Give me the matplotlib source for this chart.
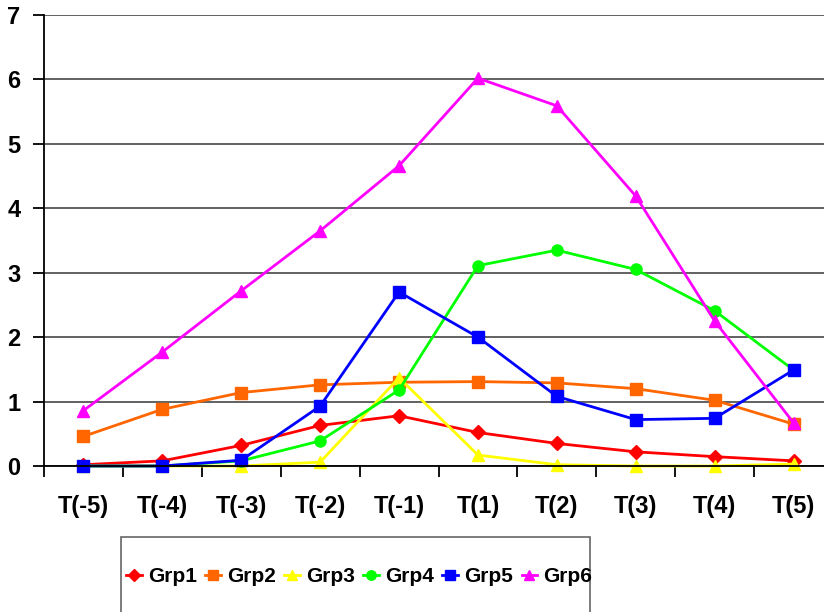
import matplotlib
matplotlib.use("Agg")
import matplotlib.pyplot as plt
from matplotlib.patches import Rectangle

categories = ["T(-5)", "T(-4)", "T(-3)", "T(-2)", "T(-1)", "T(1)", "T(2)", "T(3)", "T(4)", "T(5)"]
grp1 = [0.02, 0.08, 0.32, 0.63, 0.78, 0.52, 0.35, 0.22, 0.145, 0.08]
grp2 = [0.46, 0.88, 1.14, 1.26, 1.30, 1.31, 1.29, 1.20, 1.02, 0.65]
grp3 = [0.0, 0.0, 0.0, 0.06, 1.37, 0.17, 0.02, 0.0, 0.0, 0.03]
grp4 = [0.0, 0.0, 0.08, 0.39, 1.18, 3.11, 3.35, 3.05, 2.41, 1.49]
grp5 = [0.0, 0.0, 0.09, 0.93, 2.70, 2.00, 1.08, 0.72, 0.74, 1.49]
grp6 = [0.86, 1.77, 2.72, 3.65, 4.66, 6.02, 5.59, 4.19, 2.25, 0.67]
series_names = ["Grp1", "Grp2", "Grp3", "Grp4", "Grp5", "Grp6"]
yticks = [0, 1, 2, 3, 4, 5, 6, 7]

series = [grp1, grp2, grp3, grp4, grp5, grp6]
colors = ["#FF0000", "#FF6600", "#FFFF00", "#00FF00", "#0000FF", "#FF00FF"]
markers = ["D", "s", "^", "o", "s", "^"]
msizes = [7, 8, 9, 8, 9, 9]

plt.rcParams['font.family'] = ['Liberation Sans', 'DejaVu Sans']
plt.rcParams['font.weight'] = 'bold'

fig = plt.figure(figsize=(8.24, 6.12), dpi=100)
ax = fig.add_axes([44/824, 1-466/612, (833-44)/824, (466-15)/612])

x = list(range(len(categories)))
for name, vals, c, m, ms in zip(series_names, series, colors, markers, msizes):
    ax.plot(x, vals, color=c, marker=m, markersize=ms, linewidth=2.0,
            markeredgecolor=c, label=name, clip_on=False)

ax.set_xlim(-0.5, len(categories) - 0.5)
ax.set_ylim(0, 7)
ax.set_yticks(yticks)
ax.set_yticklabels([str(v) for v in yticks], fontsize=17, fontweight='bold')
ax.set_xticks([i + 0.5 for i in range(-1, len(categories))], minor=False)
ax.set_xticklabels([])
ax.set_xticks(x, minor=True)
ax.set_xticklabels(categories, minor=True, fontsize=17, fontweight='bold')
ax.tick_params(axis='x', which='major', length=8, width=1.3, direction='out', color='black')
ax.tick_params(axis='x', which='minor', length=0, pad=21)
ax.tick_params(axis='y', length=8, width=1.3, direction='out', pad=9)

ax.grid(axis='y', color='#555555', linewidth=1.3)
ax.set_axisbelow(True)
for s in ['top', 'right']:
    ax.spines[s].set_visible(False)
ax.spines['left'].set_linewidth(1.3)
ax.spines['bottom'].set_linewidth(1.3)

# legend box
rect = Rectangle((121/824, -0.05), (590-121)/824, (1-537/612) + 0.05,
                 transform=fig.transFigure, facecolor='white',
                 edgecolor='#666666', linewidth=1.2)
fig.patches.append(rect)
leg = fig.legend(loc='center left', bbox_to_anchor=(126/824, 1-577/612),
                 ncol=6, frameon=False, handlelength=0.75,
                 prop={'family': ['Liberation Sans'], 'size': 15, 'weight': 'bold'},
                 handletextpad=0.3, columnspacing=0.4, borderaxespad=0,
                 borderpad=0, markerscale=0.85)

fig.savefig("out.png", dpi=100)
